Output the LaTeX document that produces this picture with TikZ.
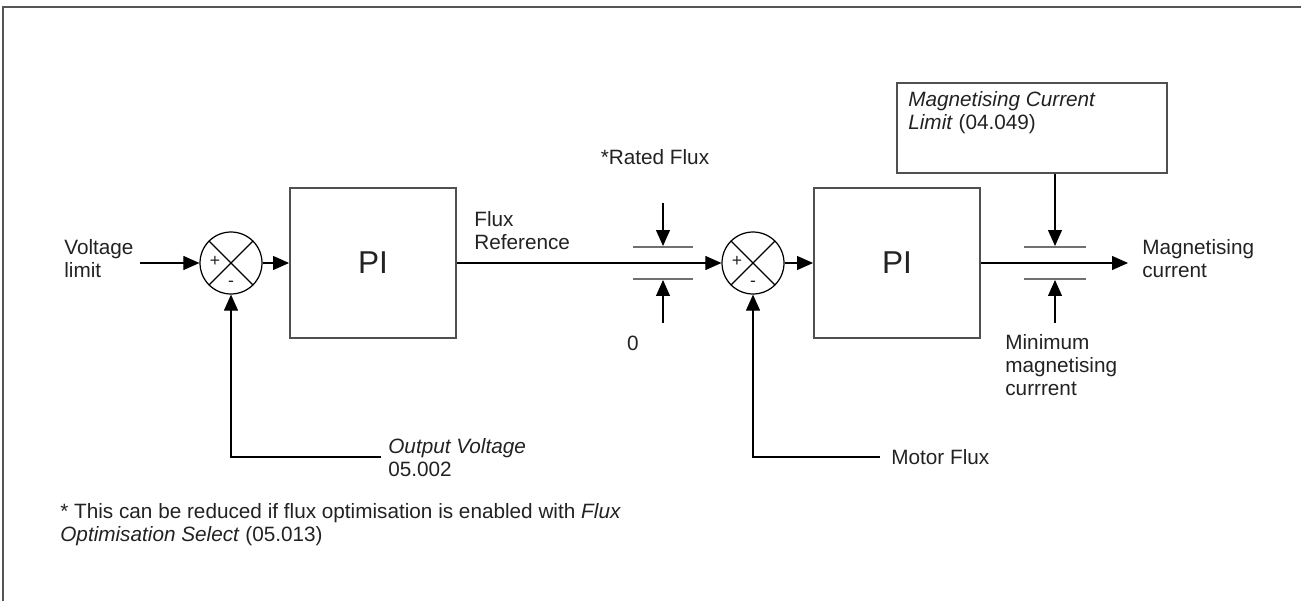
\documentclass[tikz,border=0pt]{standalone}
\usepackage{fontspec}
\setmainfont{Liberation Sans}
\usepackage{tikz}
\usetikzlibrary{arrows.meta, positioning}
\definecolor{framegray}{HTML}{555555}
\definecolor{boxgray}{HTML}{505050}
\definecolor{bargray}{HTML}{707070}
\definecolor{txtgray}{HTML}{222222}

\begin{document}
\begin{tikzpicture}[x=0.02cm, y=-0.02cm,
  every node/.style={font=\fontsize{11.8}{13.1}\selectfont, text=txtgray},
  sumnode/.style={draw, circle, minimum size=1.24cm, inner sep=0pt, line width=0.7pt},
  pibox/.style={draw=boxgray, line width=1.1pt, minimum width=3.32cm, minimum height=3cm, font=\fontsize{18}{20}\selectfont},
  limbox/.style={draw=boxgray, line width=1.1pt, minimum width=5.4cm, minimum height=1.8cm},
  lbl/.style={align=left, inner sep=0pt},
  sgn/.style={inner sep=0pt, font=\fontsize{10}{10}\selectfont},
  arr/.style={-{Triangle[length=0.32cm, width=0.28cm]}, line width=0.6pt},
  bar/.style={draw=bargray, line width=1.4pt}
]
\useasboundingbox (0,0) rectangle (1301,601);
\draw[framegray, line width=1.6pt] (3,601) -- (3,7) -- (1301,7);

% first loop
\node[lbl, anchor=west] (vlim) at (64,259) {Voltage\\limit};
\coordinate (vin) at (140,263);
\node[sumnode] (s1) at (231,263) {};
\draw[line width=0.7pt] (s1.north west) -- (s1.south east) (s1.north east) -- (s1.south west);
\node[sgn] (s1p) at (215,261) {+};
\node[sgn] (s1m) at (231,284) {-};
\node[pibox] (pi1) at (373,263) {PI};
\node[lbl, anchor=west] (fref) at (474,231) {Flux\\Reference};

% flux limiter
\coordinate (lim1) at (663,263);
\draw[bar] ([shift={(-30,-16)}]lim1) -- ([shift={(30,-16)}]lim1);
\draw[bar] ([shift={(-30,16)}]lim1) -- ([shift={(30,16)}]lim1);
\node (rflux) at (655,157) {*Rated Flux};
\coordinate (rtop) at (663,203);
\coordinate (rbot) at (663,323);
\node (zero) at (633,343) {0};

% second loop
\node[sumnode] (s2) at (753,263) {};
\draw[line width=0.7pt] (s2.north west) -- (s2.south east) (s2.north east) -- (s2.south west);
\node[sgn] (s2p) at (737,261) {+};
\node[sgn] (s2m) at (753,284) {-};
\node[pibox] (pi2) at (897,263) {PI};

% current limiter
\coordinate (lim2) at (1055,263);
\draw[bar] ([shift={(-31,-16)}]lim2) -- ([shift={(31,-16)}]lim2);
\draw[bar] ([shift={(-31,16)}]lim2) -- ([shift={(31,16)}]lim2);
\node[limbox] (mcl) at (1032,128) {};
\node[lbl, anchor=north west] (mcltxt) at (908,91) {\textit{Magnetising Current}\\\textit{Limit} (04.049)};
\coordinate (iout) at (1128,263);
\node[lbl, anchor=west] (mag) at (1142,259) {Magnetising\\current};
\coordinate (mbot) at (1055,323);
\node[lbl, anchor=west] (minmag) at (1005,365) {Minimum\\magnetising\\currrent};

% feedback
\coordinate (fb1) at (381,457);
\node[lbl, anchor=west] (vout) at (388,458) {\textit{Output Voltage}\\05.002};
\coordinate (fb2) at (880,457);
\node[lbl, anchor=west] (mflux) at (891,457) {Motor Flux};

\node[lbl, anchor=west] (note) at (60,525) {* This can be reduced if flux optimisation is enabled with \textit{Flux}\\\textit{Optimisation Select} (05.013)};

% connectors
\draw[arr] (vin) -- (s1);
\draw[arr] (s1) -- (pi1);
\draw[arr] (pi1) -- (s2);
\draw[arr] (s2) -- (pi2);
\draw[arr] (pi2.east) -- (iout);
\draw[arr] (rtop) -- ([shift={(0,-17)}]lim1);
\draw[arr] (rbot) -- ([shift={(0,17)}]lim1);
\draw[arr] (mcl.south -| lim2) -- ([shift={(0,-17)}]lim2);
\draw[arr] (mbot) -- ([shift={(0,17)}]lim2);
\draw[arr] (fb1) -| (s1);
\draw[arr] (fb2) -| (s2);

\end{tikzpicture}
\end{document}
